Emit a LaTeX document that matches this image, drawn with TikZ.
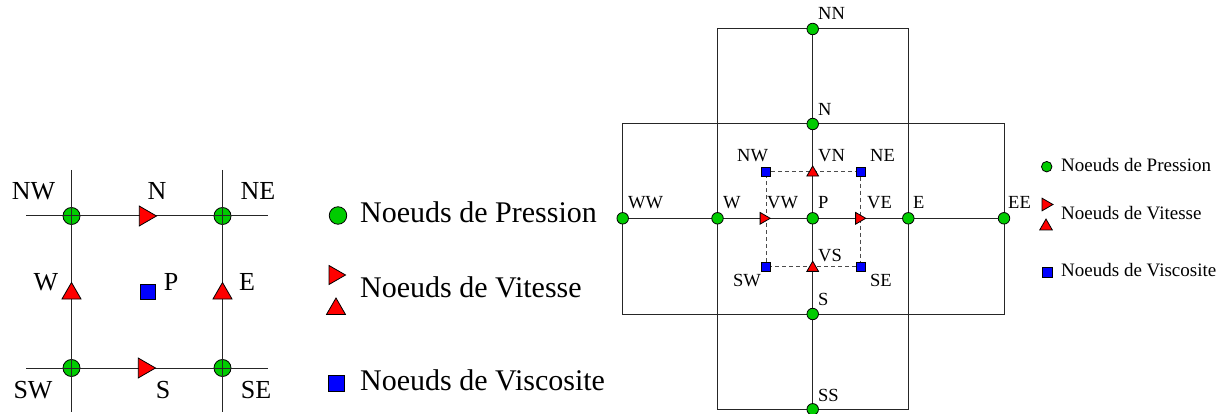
\documentclass[tikz,border=0pt]{standalone}
\usepackage{fontspec}
\setmainfont{Liberation Serif}
\usetikzlibrary{
  shapes.geometric, % For the triangles
  backgrounds % For lines behind the nodes
}
\definecolor{druck}{RGB}{0,204,0}

\begin{document}
\begin{tikzpicture}[
    x=1pt, y=-1pt, % Koordinaten in Pixel
    pres/.style={circle, draw, line width=0.8pt, fill=druck, inner sep=0pt, minimum size=#1}, % Druckknoten
    vitr/.style={regular polygon, regular polygon sides=3, shape border rotate=-90, draw, line width=0.8pt, fill=red, inner sep=0pt, minimum size=#1}, % Geschwindigkeit (x)
    vitu/.style={regular polygon, regular polygon sides=3, draw, line width=0.8pt, fill=red, inner sep=0pt, minimum size=#1}, % Geschwindigkeit (y)
    visc/.style={rectangle, draw, line width=0.8pt, fill=blue, inner sep=0pt, minimum size=#1}, % Viskositaet
    grid/.style={black!85, line width=1pt},
    biglab/.style={inner sep=0pt, anchor=base, font=\fontsize{26}{30}\selectfont},
    leglab/.style={inner sep=0pt, anchor=base west, font=\fontsize{#1}{#1}\selectfont},
    lab/.style={inner sep=0pt, anchor=base west, font=\fontsize{18.5}{20}\selectfont},
  ]

    \useasboundingbox (0,0) rectangle (1229,414);

    % Linke Zelle
    \foreach \n/\x/\y in {lnw/71.5/216, lne/222.5/216, lsw/71.5/368, lse/222.5/368}
    \node[pres=17] (\n) at (\x,\y) {};

    \foreach \n in {lnw, lne}
    \draw[grid] (\n) ++(0,-46) -- ++(0,242);
    \foreach \n in {lnw, lsw}
    \draw[grid] (\n) ++(-45.5,0) -- ++(242,0);

    \node[vitr=23] (ln) at (145,216) {};
    \node[vitr=23] (ls) at (144,368) {};
    \node[vitu=22] (lw) at (71.5,293.5) {};
    \node[vitu=22] (le) at (222.5,293.5) {};
    \node[visc=15] (lp) at (147.5,291.5) {};

    \foreach \n/\x/\y/\txt in {nw/33.5/200/NW, n/157/200/N, ne/258/200/NE,
      w/46/290/W, p/171/290/P, e/247/290/E,
      sw/33/398/SW, s/163/398/S, se/256/398/SE}
    \node[biglab] (tl\n) at (\x,\y) {\txt};

    % Legende links
    \node[pres=17.5] (leg1) at (338,215.5) {};
    \node[vitr=22] (leg2) at (334.5,275) {};
    \node[vitu=22] (leg3) at (336,309) {};
    \node[visc=16] (leg4) at (336.5,383) {};
    \node[leglab=30] (tleg1) at (360,223) {Noeuds de Pression};
    \node[leglab=30] (tleg2) at (360,298) {Noeuds de Vitesse};
    \node[leglab=30] (tleg4) at (360,390) {Noeuds de Viscosite};

    % Rechtes Gitter
    \foreach \n/\x/\y in {ww/622.7/218.3, w/717.5/218.3, p/812.7/218.3, e/908.3/218.3,
      ee/1004/218.3, n/812.7/124, s/812.7/314, nn/812.7/29, ss/812.7/409.3}
    \node[pres=11.5] (r\n) at (\x,\y) {};

    \foreach \n/\x/\y in {nw/766/171.7, ne/860.7/171.7, sw/766/266.7, se/860.7/266.7}
    \node[visc=9] (v\n) at (\x,\y) {};

    \node[vitu=13.5] (vn) at (812.7,172.7) {};
    \node[vitu=13.5] (vs) at (812.7,268) {};
    \node[vitr=13.5] (vw) at (763.5,218.3) {};
    \node[vitr=13.5] (ve) at (859,218.3) {};

    \begin{scope}[on background layer]
      \draw[grid] (rww |- rn) rectangle (ree |- rs);
      \draw[grid] (rw |- rnn) rectangle (re |- rss);
      \draw[grid] (rww) -- (ree);
      \draw[grid] (rnn) -- (rss);
      \draw[black!70, line width=0.8pt, dash pattern=on 4pt off 3pt]
        (vnw) -- (vne) -- (vse) -- (vsw) -- (vnw);
    \end{scope}

    \foreach \n/\x/\y/\txt in {ww/628/209/WW, w/723/209/W, vw/767/209/VW, p/818/209/P,
      ve/867/209/VE, e/913/209/E, ee/1008/209/EE, n/818/116/N, nw/737/161.7/NW,
      vn/818/161.7/VN, ne/870/161.7/NE, vs/818/261.7/VS, sw/733/286.7/SW,
      se/870/286.7/SE, s/818/305/S, nn/818/20/NN, ss/818/401.7/SS}
    \node[lab] (tr\n) at (\x,\y) {\txt};

    % Legende rechts
    \node[pres=10.5] (rleg1) at (1046.7,166.7) {};
    \node[vitr=14.5] (rleg2) at (1045.7,204.5) {};
    \node[vitu=14.5] (rleg3) at (1046,226.3) {};
    \node[visc=10] (rleg4) at (1047,272) {};
    \node[leglab=19] (trleg1) at (1061,171.7) {Noeuds de Pression};
    \node[leglab=19] (trleg2) at (1061,220) {Noeuds de Vitesse};
    \node[leglab=19] (trleg4) at (1061,276.7) {Noeuds de Viscosite};
\end{tikzpicture}
\end{document}
